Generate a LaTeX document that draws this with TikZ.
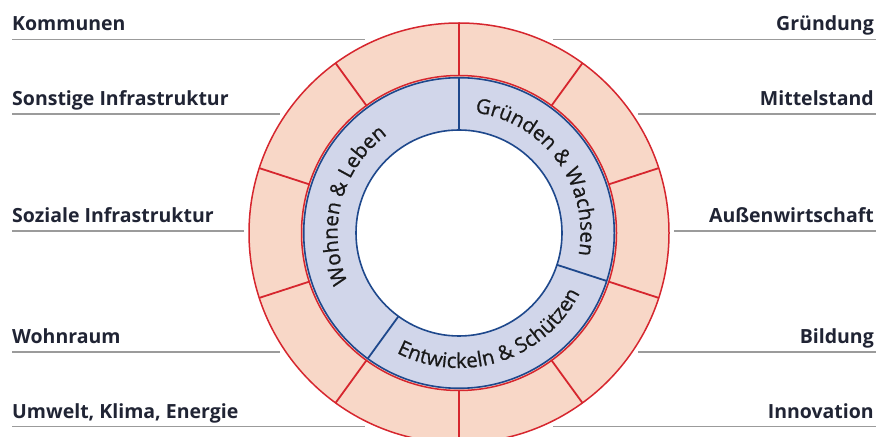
\documentclass[tikz,border=0pt]{standalone}
\usepackage{fontspec}
\setmainfont{Open Sans}
\newfontfamily\innerfont[FakeBold=0.7]{Open Sans}
\usetikzlibrary{decorations.text}
\definecolor{salmon}{RGB}{248,215,199}
\definecolor{ringred}{RGB}{214,38,46}
\definecolor{lav}{RGB}{209,214,234}
\definecolor{ringblue}{RGB}{30,72,140}
\definecolor{labeltext}{RGB}{32,36,52}
\definecolor{rulegray}{RGB}{155,155,155}
\begin{document}
\begin{tikzpicture}[x=1pt,y=1pt,
  lbl/.style={font=\fontsize{19.5}{19.5}\selectfont\bfseries, text=labeltext, inner sep=0pt},
  rul/.style={draw=rulegray, line width=1.2pt},
  reddiv/.style={draw=ringred, line width=1.8pt},
  bluediv/.style={draw=ringblue, line width=1.8pt},
  arctext/.style={decorate, decoration={text along path, text align=center,
     text={|\innerfont\fontsize{20.5}{20.5}\selectfont\color{black!90}|#1}}}]
\useasboundingbox (0,0) rectangle (877,436);
\coordinate (c) at (459,203);
% rings
\fill[salmon] (c) circle[radius=210];
\fill[lav] (c) circle[radius=156];
\fill[white] (c) circle[radius=103];
\foreach \a in {18,54,...,342}
  \draw[reddiv] ([shift={(\a:157)}]c) -- ([shift={(\a:210)}]c);
\foreach \a in {90,234,342}
  \draw[bluediv] ([shift={(\a:103)}]c) -- ([shift={(\a:155.5)}]c);
\draw[ringred, line width=1.5pt] (c) circle[radius=210];
\draw[ringred, line width=1.5pt] (c) circle[radius=157.5];
\draw[ringblue, line width=1.6pt] (c) circle[radius=155.3];
\draw[ringblue, line width=1.6pt] (c) circle[radius=103];
% inner arc texts
\path[arctext={Gründen {\&} Wachsen}] ([shift={(90:121.5)}]c) arc[start angle=90, end angle=-18, radius=121.5];
\path[arctext={Wohnen {\&} Leben}] ([shift={(240:121.5)}]c) arc[start angle=240, end angle=90, radius=121.5];
\path[arctext={Entwickeln {\&} Schützen}] ([shift={(234:135)}]c) arc[start angle=234, end angle=342, radius=135];
% left labels
\node[lbl, anchor=base west] (kom) at (12,405) {Kommunen};
\node[lbl, anchor=base west] (son) at (12,330.5) {Sonstige Infrastruktur};
\node[lbl, anchor=base west] (soz) at (12,213.5) {Soziale Infrastruktur};
\node[lbl, anchor=base west] (woh) at (12,92.5) {Wohnraum};
\node[lbl, anchor=base west] (umw) at (12,17.8) {Umwelt, Klima, Energie};
% right labels
\node[lbl, anchor=base east] (gru) at (874,405) {Gründung};
\node[lbl, anchor=base east] (mit) at (874,330.5) {Mittelstand};
\node[lbl, anchor=base east] (aus) at (874,213.5) {Außenwirtschaft};
\node[lbl, anchor=base east] (bil) at (874,92.5) {Bildung};
\node[lbl, anchor=base east] (inn) at (874,17.8) {Innovation};
% rules
\coordinate (kl) at (12,396.5);  \coordinate (kr) at (365,396.5);
\coordinate (sl) at (12,322);    \coordinate (sr) at (280,322);
\coordinate (zl) at (12,205);    \coordinate (zr) at (244,205);
\coordinate (wl) at (12,84);     \coordinate (wr) at (280,84);
\coordinate (ul) at (12,9.3);    \coordinate (ur) at (365,9.3);
\coordinate (gl) at (553,396.5); \coordinate (gr) at (876,396.5);
\coordinate (ml) at (638,322);   \coordinate (mr) at (876,322);
\coordinate (al) at (674,205);   \coordinate (ar) at (876,205);
\coordinate (bl) at (638,84);    \coordinate (br) at (876,84);
\coordinate (il) at (553,9.3);   \coordinate (ir) at (876,9.3);
\foreach \p/\q in {kl/kr,sl/sr,zl/zr,wl/wr,ul/ur,gl/gr,ml/mr,al/ar,bl/br,il/ir}
  \draw[rul] (\p) -- (\q);
\end{tikzpicture}
\end{document}
